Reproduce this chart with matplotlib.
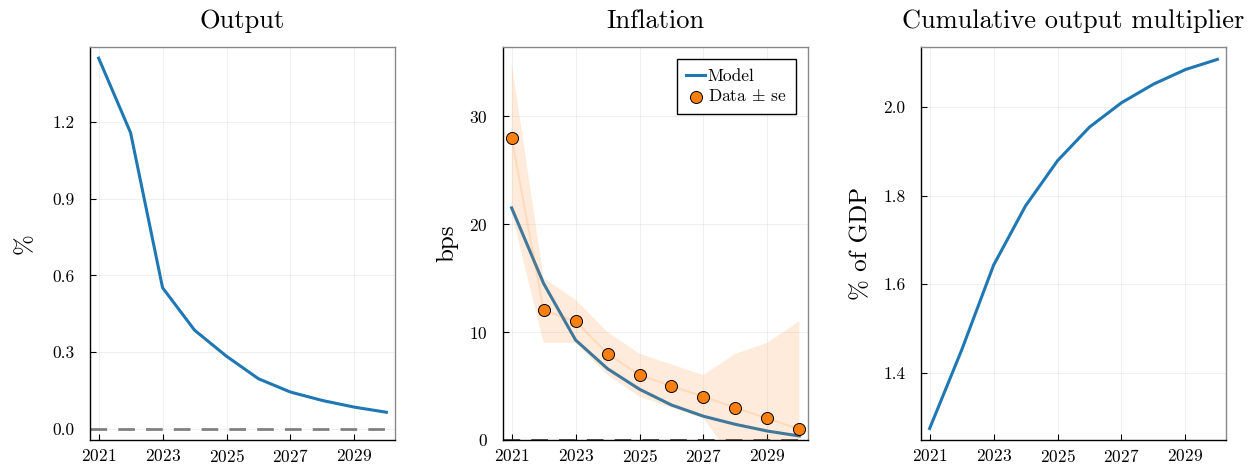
import numpy as np
import matplotlib
matplotlib.use("Agg")
import matplotlib.pyplot as plt

plt.rcParams['font.family'] = ['cmr10', 'DejaVu Serif']
plt.rcParams['mathtext.fontset'] = 'cm'
plt.rcParams['axes.unicode_minus'] = False
plt.rcParams['axes.formatter.use_mathtext'] = True

# Data
years = [2021, 2022, 2023, 2024, 2025, 2026, 2027, 2028, 2029, 2030]
output = [1.45, 1.158, 0.552, 0.386, 0.284, 0.196, 0.144, 0.111, 0.085, 0.065]
infl_model = [21.5, 14.5, 9.26, 6.6, 4.7, 3.24, 2.2, 1.45, 0.83, 0.37]
infl_data = [28, 12, 11, 8, 6, 5, 4, 3, 2, 1]
infl_se = [7, 3, 2, 2, 2, 2, 2, 5, 7, 10]
multiplier = [1.274, 1.451, 1.643, 1.777, 1.879, 1.955, 2.010, 2.052, 2.085, 2.108]

xticks = [2021, 2023, 2025, 2027, 2029]
blue = '#1f77b4'
orange = '#ff7f0e'

fig = plt.figure(figsize=(12.53, 4.72), dpi=100)
W, H = 1253, 472
lefts = [90, 503, 921]
width = 305
bottom_px, top_px = 440, 47
axes = [fig.add_axes([l / W, (H - bottom_px) / H, width / W, (bottom_px - top_px) / H]) for l in lefts]


def style(ax):
    ax.grid(True, color='black', alpha=0.07, linewidth=0.6)
    ax.set_axisbelow(True)
    for s in ['top', 'right']:
        ax.spines[s].set_color('#888888')
        ax.spines[s].set_linewidth(1.0)
    for s in ['left', 'bottom']:
        ax.spines[s].set_color('black')
        ax.spines[s].set_linewidth(1.0)
    ax.tick_params(direction='in', length=4, width=0.8, labelsize=12.5)
    ax.tick_params(axis='y', pad=11)
    ax.tick_params(axis='x', pad=6)
    ax.set_xticks(xticks)
    ax.set_xlim(2020.73, 2030.27)


# Output
ax = axes[0]
ax.plot(years, output, color=blue, lw=2.2)
ax.axhline(0, color='gray', lw=2, ls=(0, (6, 4)))
ax.set_ylim(-0.0435, 1.4935)
ax.set_yticks([0.0, 0.3, 0.6, 0.9, 1.2])
ax.set_yticklabels(['0.0', '0.3', '0.6', '0.9', '1.2'])
ax.set_ylabel('%', fontsize=18, labelpad=12)
ax.set_title('Output', fontsize=19, pad=14)
style(ax)

# Inflation -- the data band sits on top of the model line, as in the original
ax = axes[1]
lo = np.array(infl_data) - np.array(infl_se)
hi = np.array(infl_data) + np.array(infl_se)
ax.axhline(0, color='#444444', lw=2, ls=(0, (6, 4)))
ax.plot(years, infl_model, color=blue, lw=2.2, label='Model', zorder=2)
ax.fill_between(years, lo, hi, color=orange, alpha=0.15, lw=0, zorder=3)
ax.plot(years, infl_data, color=orange, alpha=0.15, lw=1.5, zorder=3)
ax.scatter(years, infl_data, s=75, color=orange, edgecolor='black', lw=0.7, zorder=5,
           label=r'Data $\pm$ se')
ax.set_ylim(0, 36.4)
ax.set_yticks([0, 10, 20, 30])
ax.set_ylabel('bps', fontsize=18, labelpad=8)
ax.set_title('Inflation', fontsize=19, pad=14)
leg = ax.legend(loc='upper right', fontsize=12.5, frameon=True, fancybox=False,
                edgecolor='black', framealpha=1, handlelength=1.1, handletextpad=0.15,
                borderpad=0.55, labelspacing=0.25, borderaxespad=0.7)
leg.get_frame().set_linewidth(1.0)
leg.set_zorder(10)
style(ax)

# Cumulative output multiplier
ax = axes[2]
ax.plot(years, multiplier, color=blue, lw=2.2)
ax.set_ylim(1.248, 2.136)
ax.set_yticks([1.4, 1.6, 1.8, 2.0])
ax.set_yticklabels(['1.4', '1.6', '1.8', '2.0'])
ax.set_ylabel('% of GDP', fontsize=18, labelpad=8)
ax.set_title('Cumulative output multiplier', fontsize=19, pad=14)
style(ax)

fig.savefig('out.png', dpi=100)
